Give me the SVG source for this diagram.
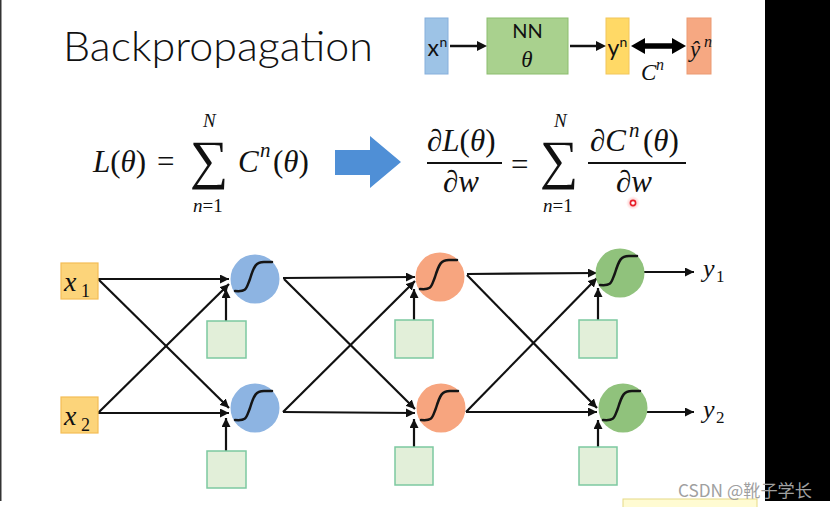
<svg xmlns="http://www.w3.org/2000/svg" width="830" height="507" viewBox="0 0 830 507">
<defs>
<style>
.sans{font-family:Lato,"Open Sans","Liberation Sans",sans-serif;fill:#111}
.math{font-family:"Liberation Serif","DejaVu Serif",serif;font-style:italic;fill:#111}
.up{font-style:normal}
.sum{font-family:"Liberation Serif","DejaVu Serif",serif;fill:#111}
.ln{stroke:#111;stroke-width:2.2;fill:none}
.bias{fill:#e2efd9;stroke:#7cc9a0;stroke-width:1.5}
.sig{fill:none;stroke:#151515;stroke-width:2.5;stroke-linecap:round}
</style>
<marker id="ah" viewBox="0 0 10 10" refX="10" refY="5" markerWidth="9" markerHeight="9" markerUnits="userSpaceOnUse" orient="auto">
<path d="M0,0 L10,5 L0,10 z" fill="#111"/>
</marker>
<radialGradient id="dot" cx="0.5" cy="0.5" r="0.5">
<stop offset="0" stop-color="#ff5050" stop-opacity="0.6"/>
<stop offset="1" stop-color="#ff8080" stop-opacity="0"/>
</radialGradient>
</defs>
<rect width="830" height="507" fill="#fff"/>
<rect x="0" y="0" width="1.5" height="501" fill="#333"/>
<rect x="765" y="0" width="65" height="501" fill="#000"/>

<!-- title -->
<text id="title" class="sans" x="63" y="61" font-size="42" font-weight="300" textLength="310" lengthAdjust="spacingAndGlyphs" fill="#1a1a1a">Backpropagation</text>

<!-- top mini diagram -->
<g id="top-xn"><rect x="425" y="18" width="23" height="56" fill="#9dc3e6" stroke="#86afdc"/><text class="sans" x="427.5" y="56" font-size="23">x</text><text class="sans" x="439.5" y="47" font-size="14">n</text></g>
<g id="top-nn"><rect x="487" y="18" width="81" height="56" fill="#a9d18e" stroke="#8cbd6e"/><text class="sans" x="527.5" y="38" font-size="20" text-anchor="middle">NN</text><text class="math" x="527" y="67" font-size="23" text-anchor="middle">θ</text></g>
<g id="top-yn"><rect x="606" y="18" width="23" height="56" fill="#ffd966" stroke="#f2c65a"/><text class="sans" x="607.5" y="56" font-size="23">y</text><text class="sans" x="619.5" y="47" font-size="14">n</text></g>
<g id="top-yhat"><rect x="687" y="18" width="24" height="56" fill="#f6a882" stroke="#eb9a72"/><text class="math" x="690" y="57" font-size="23">ŷ</text><text class="math" x="704" y="47" font-size="16">n</text></g>
<g id="top-cn"><text class="math" x="641" y="80" font-size="23">C</text><text class="math" x="656" y="70" font-size="16">n</text></g>
<g id="top-connectors">
<line x1="450" y1="46" x2="479" y2="46" stroke="#111" stroke-width="2.5"/><path d="M477,41 L487,46 L477,51 z" fill="#111"/>
<line x1="570" y1="46" x2="598" y2="46" stroke="#111" stroke-width="2.5"/><path d="M596,41 L606,46 L596,51 z" fill="#111"/>
<line x1="642" y1="46" x2="676" y2="46" stroke="#000" stroke-width="5.5"/>
<path d="M631,46 L645,38 L645,54 z" fill="#000"/><path d="M686,46 L672,38 L672,54 z" fill="#000"/>
</g>

<!-- formula left -->
<g id="formula-left">
<text class="math" x="93" y="172" font-size="31">L<tspan class="up">(</tspan>θ<tspan class="up">)</tspan></text>
<text class="math up" x="157" y="172" font-size="31">=</text>
<text class="sum" x="190" y="178" font-size="54">∑</text>
<text class="math" x="203" y="127" font-size="19">N</text>
<text class="math" x="193" y="212" font-size="19">n<tspan class="up">=1</tspan></text>
<text class="math" x="238" y="172" font-size="31">C</text><text class="math" x="260" y="157" font-size="21">n</text>
<text class="math" x="273" y="172" font-size="31"><tspan class="up">(</tspan>θ<tspan class="up">)</tspan></text>
</g>

<g id="big-arrow"><path d="M335,150 L370,150 L370,136 L401,162 L370,188 L370,175 L335,175 z" fill="#4f8fd6"/></g>

<!-- formula right -->
<g id="formula-right">
<text class="math" x="427" y="151" font-size="31">∂L<tspan class="up">(</tspan>θ<tspan class="up">)</tspan></text>
<line x1="427" y1="163" x2="502" y2="163" stroke="#111" stroke-width="1.8"/>
<text class="math" x="443" y="192" font-size="31">∂w</text>
<text class="math up" x="511" y="175" font-size="31">=</text>
<text class="sum" x="540" y="178" font-size="54">∑</text>
<text class="math" x="554" y="127" font-size="19">N</text>
<text class="math" x="543" y="212" font-size="19">n<tspan class="up">=1</tspan></text>
<text class="math" x="590" y="151" font-size="31">∂C</text><text class="math" x="629" y="137" font-size="21">n</text>
<text class="math" x="643" y="151" font-size="31"><tspan class="up">(</tspan>θ<tspan class="up">)</tspan></text>
<line x1="588" y1="163" x2="686" y2="163" stroke="#111" stroke-width="1.8"/>
<text class="math" x="616" y="192" font-size="31">∂w</text>
<circle cx="633" cy="203" r="7" fill="url(#dot)"/>
<circle cx="633" cy="203" r="2.6" fill="#fff" stroke="#e8202a" stroke-width="1.6"/>
</g>

<!-- network connectors -->
<g id="connectors" class="ln">
<line x1="98" y1="279" x2="229" y2="279" marker-end="url(#ah)"/>
<line x1="98" y1="279" x2="229" y2="408" marker-end="url(#ah)"/>
<line x1="98" y1="413" x2="229" y2="284" marker-end="url(#ah)"/>
<line x1="98" y1="413" x2="229" y2="413" marker-end="url(#ah)"/>
<line x1="226" y1="321" x2="226" y2="289" marker-end="url(#ah)"/>
<line x1="226" y1="451" x2="226" y2="418" marker-end="url(#ah)"/>

<line x1="283" y1="278" x2="415" y2="277" marker-end="url(#ah)"/>
<line x1="284" y1="279" x2="415" y2="409" marker-end="url(#ah)"/>
<line x1="283" y1="412" x2="415" y2="281" marker-end="url(#ah)"/>
<line x1="283" y1="412" x2="415" y2="413" marker-end="url(#ah)"/>
<line x1="414" y1="320" x2="414" y2="289" marker-end="url(#ah)"/>
<line x1="414" y1="447" x2="414" y2="419" marker-end="url(#ah)"/>

<line x1="467" y1="274" x2="597" y2="273" marker-end="url(#ah)"/>
<line x1="467" y1="275" x2="597" y2="408" marker-end="url(#ah)"/>
<line x1="466" y1="412" x2="597" y2="278" marker-end="url(#ah)"/>
<line x1="466" y1="412" x2="597" y2="412" marker-end="url(#ah)"/>
<line x1="598" y1="320" x2="598" y2="288" marker-end="url(#ah)"/>
<line x1="598" y1="447" x2="598" y2="420" marker-end="url(#ah)"/>

<line x1="644" y1="272" x2="694" y2="272" marker-end="url(#ah)"/>
<line x1="647" y1="412" x2="694" y2="412" marker-end="url(#ah)"/>
</g>

<!-- inputs -->
<g id="x1"><rect x="61" y="263" width="37" height="36" fill="#fcd47a" stroke="#f3bd55" stroke-width="1.2"/><text class="math" x="64" y="291" font-size="28">x</text><text class="math up" x="81" y="297" font-size="18">1</text></g>
<g id="x2"><rect x="61" y="397" width="37" height="36" fill="#fcd47a" stroke="#f3bd55" stroke-width="1.2"/><text class="math" x="64" y="425" font-size="28">x</text><text class="math up" x="81" y="431" font-size="18">2</text></g>

<!-- layer 1 -->
<g id="h1a"><circle cx="255" cy="279" r="24.5" fill="#8db4e2"/><path class="sig" d="M235,291 C247,292 246,289 250,279 C254,266 256,262 264,262 L272,262"/></g>
<g id="h1b"><circle cx="255" cy="408" r="24.5" fill="#8db4e2"/><path class="sig" d="M235,420 C247,421 246,418 250,408 C254,395 256,391 264,391 L272,391"/></g>
<g id="b1a"><rect class="bias" x="207" y="321" width="39" height="37"/></g>
<g id="b1b"><rect class="bias" x="207" y="451" width="39" height="37"/></g>

<!-- layer 2 -->
<g id="h2a"><circle cx="440" cy="277" r="24.5" fill="#f7a57f"/><path class="sig" d="M420,289 C432,290 431,287 435,277 C439,264 441,260 449,260 L457,260"/></g>
<g id="h2b"><circle cx="441" cy="408" r="24.5" fill="#f7a57f"/><path class="sig" d="M421,420 C433,421 432,418 436,408 C440,395 442,391 450,391 L458,391"/></g>
<g id="b2a"><rect class="bias" x="395" y="320" width="38" height="38"/></g>
<g id="b2b"><rect class="bias" x="395" y="447" width="38" height="38"/></g>

<!-- layer 3 -->
<g id="h3a"><circle cx="620" cy="273" r="24.5" fill="#90c27c"/><path class="sig" d="M600,285 C612,286 611,283 615,273 C619,260 621,256 629,256 L637,256"/></g>
<g id="h3b"><circle cx="623" cy="408" r="24.5" fill="#90c27c"/><path class="sig" d="M603,420 C615,421 614,418 618,408 C622,395 624,391 632,391 L640,391"/></g>
<g id="b3a"><rect class="bias" x="579" y="320" width="38" height="38"/></g>
<g id="b3b"><rect class="bias" x="579" y="447" width="38" height="38"/></g>

<!-- outputs -->
<g id="y1"><text class="math" x="703" y="277" font-size="26">y</text><text class="math up" x="716" y="282" font-size="17">1</text></g>
<g id="y2"><text class="math" x="703" y="418" font-size="26">y</text><text class="math up" x="716" y="423" font-size="17">2</text></g>

<rect x="623" y="499" width="134" height="10" fill="#fffbd2" stroke="#e6da86" stroke-width="1"/>
<text x="678" y="497" font-family="'Noto Sans CJK SC','Noto Sans',sans-serif" font-size="17" fill="#a0a0a0" textLength="134" lengthAdjust="spacingAndGlyphs">CSDN @靴子学长</text>
</svg>
